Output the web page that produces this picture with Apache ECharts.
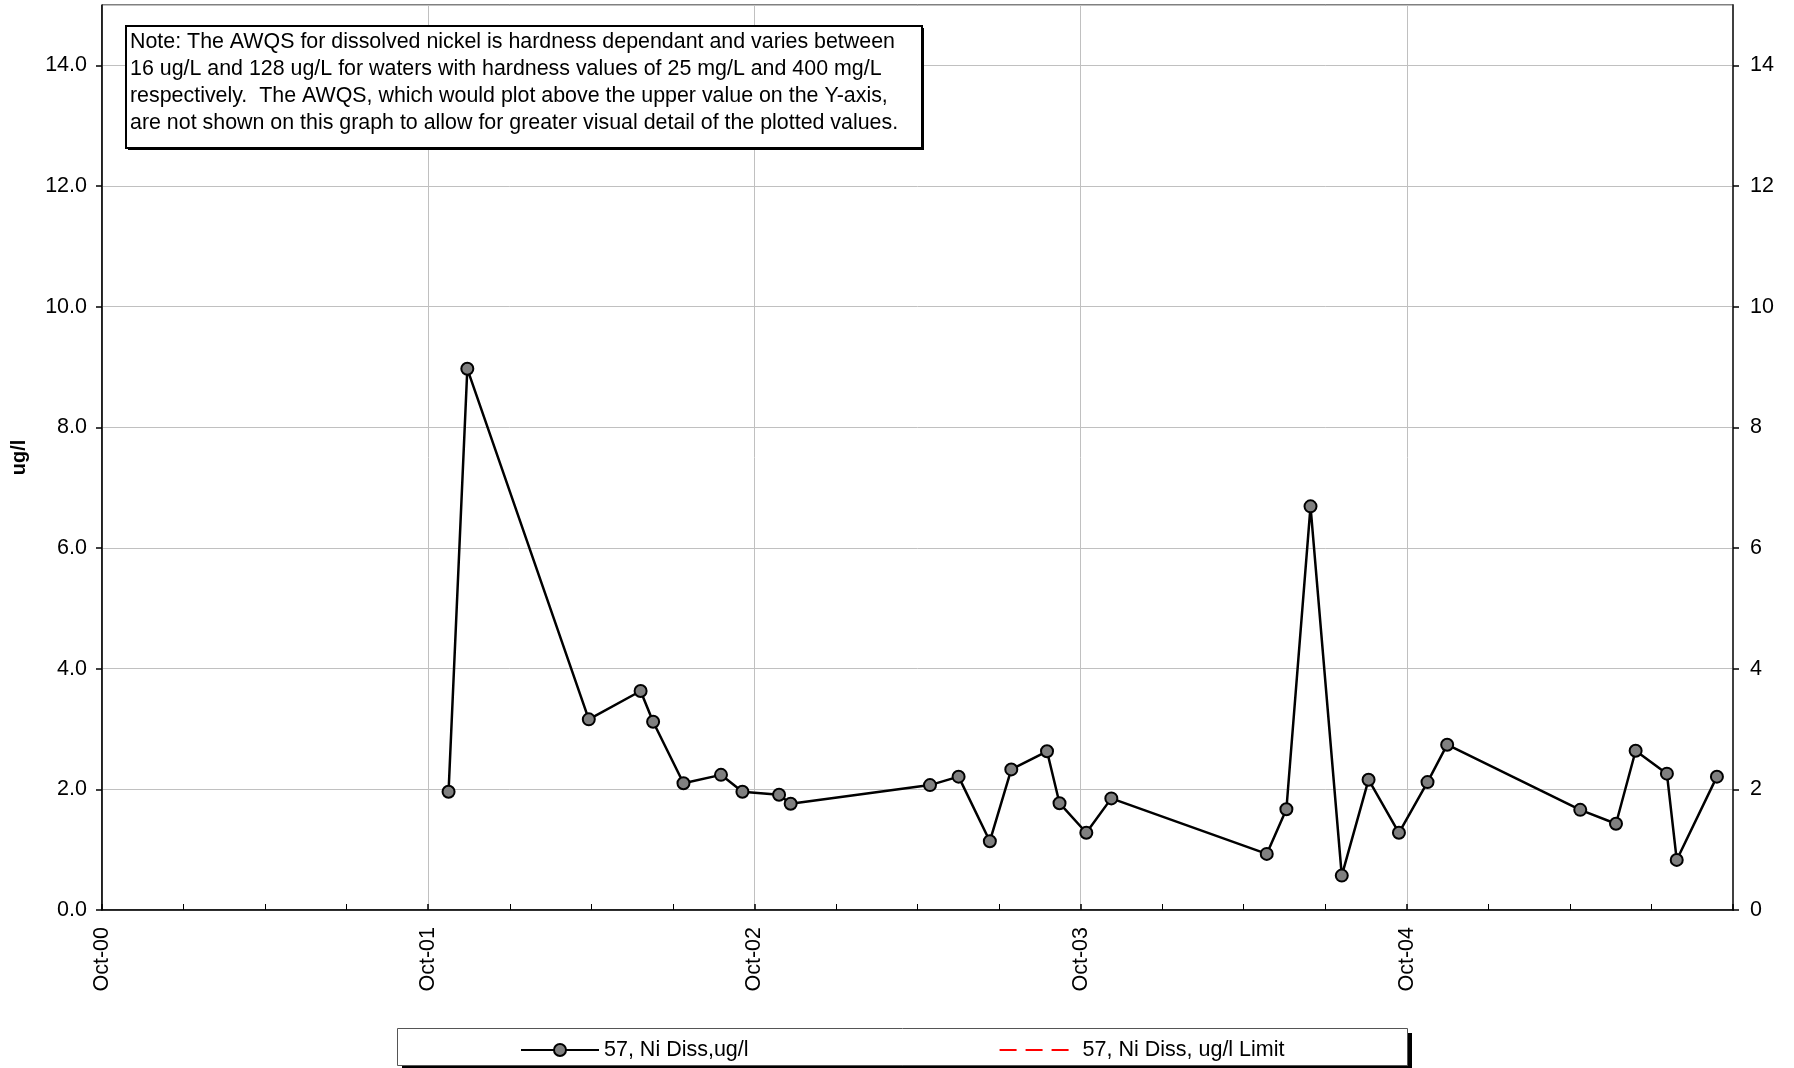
<!DOCTYPE html>
<html>
<head>
<meta charset="utf-8">
<script src="https://cdn.jsdelivr.net/npm/echarts@6/dist/echarts.min.js"></script>
<style>
html,body{margin:0;padding:0;background:#fff;}
#chart{width:1794px;height:1068px;}
</style>
</head>
<body>
<div id="chart"></div>
<script>
// ---- data ----
const sampleDates = [
  '2001-10-24','2001-11-14','2002-03-30','2002-05-27','2002-06-10','2002-07-14',
  '2002-08-25','2002-09-18','2002-10-29','2002-11-11','2003-04-16','2003-05-18',
  '2003-06-22','2003-07-16','2003-08-25','2003-09-08','2003-10-08','2003-11-05',
  '2004-04-27','2004-05-19','2004-06-15','2004-07-20','2004-08-19','2004-09-22',
  '2004-10-24','2004-11-15','2005-04-13','2005-05-23','2005-06-14','2005-07-19',
  '2005-07-30','2005-09-13'
];
const niDiss = [
  1.96, 8.97, 3.16, 3.63, 3.12, 2.10,
  2.24, 1.96, 1.91, 1.76, 2.07, 2.21,
  1.14, 2.33, 2.63, 1.77, 1.28, 1.85,
  0.93, 1.67, 6.69, 0.57, 2.16, 1.28,
  2.12, 2.74, 1.66, 1.43, 2.64, 2.26,
  0.83, 2.21
];
const niLimit = []; // limit not plotted (above Y-axis range)
const xTickLabels = ['Oct-00','Oct-01','Oct-02','Oct-03','Oct-04','Oct-05'];
const xStart = '2000-10-01';
const xEnd = '2005-10-01';
const seriesNames = ['57, Ni Diss,ug/l', '57, Ni Diss, ug/l Limit'];
const noteLines = [
  'Note: The AWQS for dissolved nickel is hardness dependant and varies between',
  '16 ug/L and 128 ug/L for waters with hardness values of 25 mg/L and 400 mg/L',
  'respectively.  The AWQS, which would plot above the upper value on the Y-axis,',
  'are not shown on this graph to allow for greater visual detail of the plotted values.'
];

// ---- chart ----
const FONT = '"Liberation Sans", Arial, sans-serif';
const FS = 21.5;
const xMin = Date.parse(xStart), xMax = Date.parse(xEnd);
const xInterval = (xMax - xMin) / 5;
const points = sampleDates.map((d, i) => [Date.parse(d), niDiss[i]]);

const chart = echarts.init(document.getElementById('chart'), null, {renderer: 'canvas'});
const option = {
  animation: false,
  backgroundColor: '#fff',
  grid: {left: 102, right: 61, top: 5, bottom: 158, show: true, borderColor: '#000', borderWidth: 1},
  xAxis: {
    type: 'value', min: xMin, max: xMax, interval: xInterval,
    axisLine: {lineStyle: {color: '#000', width: 1.5}},
    axisTick: {show: true, inside: true, length: 6, lineStyle: {color: '#000', width: 1.5}},
    minorTick: {show: true, splitNumber: 4, length: 6, lineStyle: {color: '#000', width: 1}},
    splitLine: {show: true, lineStyle: {color: '#c0c0c0', width: 1}},
    axisLabel: {
      rotate: 90, margin: 17, showMaxLabel: false,
      fontFamily: FONT, fontSize: FS, color: '#000',
      formatter: (v, i) => xTickLabels[Math.round((v - xMin) / xInterval)] || ''
    }
  },
  yAxis: [{
    type: 'value', min: 0, max: 15, interval: 2, position: 'left',
    name: 'ug/l', nameLocation: 'middle', nameGap: 73,
    nameTextStyle: {fontFamily: FONT, fontSize: 20, fontWeight: 'bold', color: '#000'},
    axisLine: {show: true, lineStyle: {color: '#000', width: 1.5}},
    axisTick: {show: true, length: 6, lineStyle: {color: '#000', width: 1.5}},
    splitLine: {show: true, lineStyle: {color: '#c0c0c0', width: 1}},
    axisLabel: {
      margin: 15, fontFamily: FONT, fontSize: FS, color: '#000', showMaxLabel: false,
      formatter: v => (v > 14 ? '' : v.toFixed(1))
    }
  }, {
    type: 'value', min: 0, max: 15, interval: 2, position: 'right',
    axisLine: {show: true, lineStyle: {color: '#404040', width: 2}},
    axisTick: {show: true, length: 6, lineStyle: {color: '#000', width: 1.5}},
    splitLine: {show: false},
    axisLabel: {
      margin: 17, fontFamily: FONT, fontSize: FS, color: '#000', showMaxLabel: false,
      formatter: v => (v > 14 ? '' : String(v))
    }
  }],
  legend: {
    left: 520, top: 1039, padding: 0, itemWidth: 78, itemHeight: 15, itemGap: 250,
    textStyle: {fontFamily: FONT, fontSize: FS, color: '#000'},
    data: [
      {name: seriesNames[0]},
      {name: seriesNames[1], itemStyle: {opacity: 0}}
    ]
  },
  series: [{
    name: seriesNames[0], type: 'line', data: points, yAxisIndex: 0,
    symbol: 'circle', symbolSize: 12, z: 5,
    lineStyle: {color: '#000', width: 2.5},
    itemStyle: {color: '#808080', borderColor: '#000', borderWidth: 2}
  }, {
    name: seriesNames[1], type: 'line', data: niLimit, yAxisIndex: 0,
    symbol: 'none',
    lineStyle: {color: '#ff0000', width: 3.5, type: [17, 9]},
    itemStyle: {color: '#ff0000'}
  }],
  graphic: [
    // note box with shadow
    {type: 'rect', left: 128, top: 28, shape: {width: 796, height: 122}, style: {fill: '#000'}, z: 10},
    {type: 'rect', left: 125, top: 25, shape: {width: 796, height: 122}, style: {fill: '#fff', stroke: '#000', lineWidth: 2}, z: 11},
    {type: 'text', left: 130, top: 28, z: 12, style: {
      text: noteLines.join('\n'), fontFamily: FONT, fontSize: 21.4, lineHeight: 27.3, fill: '#000'
    }},
    // legend box with shadow
    {type: 'rect', left: 402, top: 1033, shape: {width: 1010, height: 37}, style: {fill: '#000'}, z: -2},
    {type: 'rect', left: 397, top: 1028, shape: {width: 1010, height: 37}, style: {fill: '#fff', stroke: '#555', lineWidth: 1}, z: -1}
  ]
};
chart.setOption(option);
</script>
</body>
</html>
